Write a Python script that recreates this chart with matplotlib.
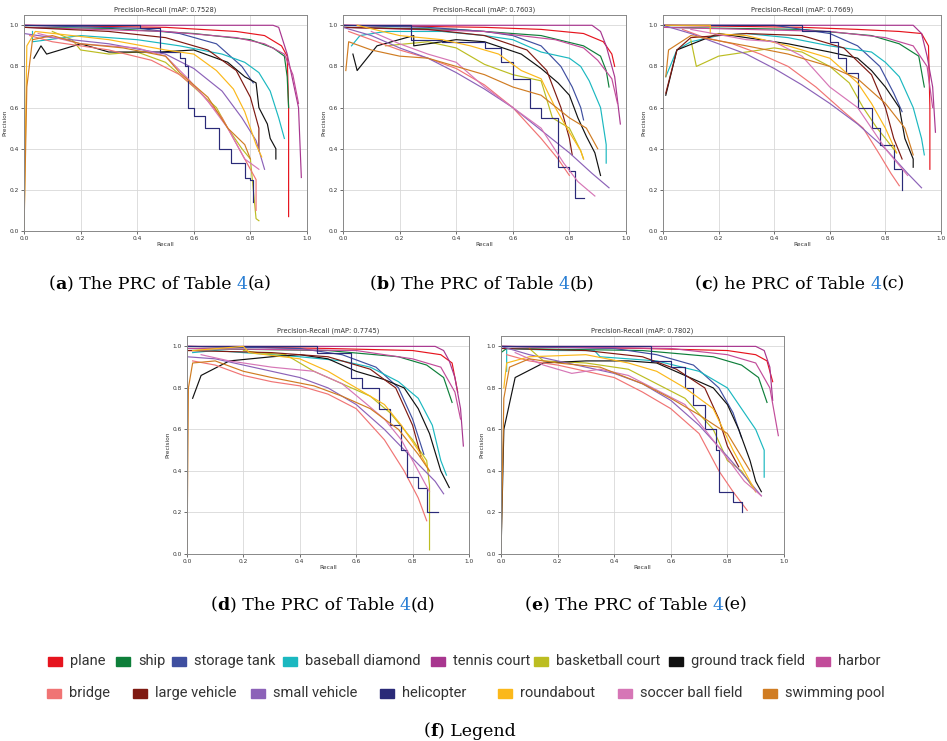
import matplotlib
matplotlib.use("Agg")
import matplotlib.pyplot as plt
from matplotlib.patches import Rectangle

classes = ["plane", "ship", "storage tank", "baseball diamond", "tennis court",
           "basketball court", "ground track field", "harbor", "bridge",
           "large vehicle", "small vehicle", "helicopter", "roundabout",
           "soccer ball field", "swimming pool"]
colors = ["#e6141e", "#0e7f3a", "#3f4fa0", "#1bb8c0", "#a8368f",
          "#bcbd22", "#111111", "#c24c9a", "#f07474", "#7f1a12",
          "#8c62b8", "#2a2a78", "#fbb81a", "#d676b6", "#d07c22"]
# helicopter has few objects, its curve is drawn as steps
stepped = {"helicopter"}

map_values = [0.7528, 0.7603, 0.7669, 0.7745, 0.7802]
panel_letters = ["a", "b", "c", "d", "e"]

# (recall, precision) points, in the order of `classes`
prc_a = [
    [(0, 1.0), (0.5, 0.99), (0.75, 0.97), (0.85, 0.95), (0.91, 0.9), (0.93, 0.85), (0.935, 0.6), (0.935, 0.07)],
    [(0, 0.99), (0.3, 0.985), (0.6, 0.96), (0.8, 0.93), (0.88, 0.89), (0.92, 0.85), (0.93, 0.75), (0.935, 0.6)],
    [(0, 1.0), (0.41, 0.985), (0.55, 0.96), (0.68, 0.91), (0.77, 0.8), (0.81, 0.72)],
    [(0.03, 0.97), (0.03, 0.92), (0.2, 0.95), (0.4, 0.93), (0.55, 0.9), (0.7, 0.86), (0.78, 0.82), (0.83, 0.77),
     (0.87, 0.68), (0.9, 0.55), (0.92, 0.45)],
    [(0, 1.0), (0.88, 1.0), (0.9, 0.99), (0.93, 0.86), (0.97, 0.6), (0.98, 0.26)],
    [(0.1, 0.97), (0.17, 0.93), (0.2, 0.88), (0.3, 0.86), (0.4, 0.87), (0.5, 0.82), (0.55, 0.76), (0.6, 0.7),
     (0.68, 0.6), (0.72, 0.5), (0.77, 0.4), (0.8, 0.35), (0.82, 0.06), (0.83, 0.05)],
    [(0.035, 0.84), (0.06, 0.9), (0.08, 0.86), (0.2, 0.91), (0.3, 0.87), (0.48, 0.87), (0.6, 0.88), (0.72, 0.82),
     (0.78, 0.75), (0.82, 0.72), (0.83, 0.6), (0.86, 0.52), (0.87, 0.45), (0.89, 0.4), (0.89, 0.35)],
    [(0, 0.99), (0.5, 0.97), (0.75, 0.94), (0.85, 0.91), (0.92, 0.86), (0.95, 0.76), (0.97, 0.62)],
    [(0.02, 0.95), (0.1, 0.92), (0.3, 0.88), (0.45, 0.83), (0.55, 0.76), (0.62, 0.68), (0.7, 0.55), (0.76, 0.4),
     (0.8, 0.3), (0.82, 0.25), (0.82, 0.1)],
    [(0, 0.99), (0.3, 0.97), (0.5, 0.94), (0.65, 0.88), (0.75, 0.78), (0.8, 0.65), (0.83, 0.5), (0.83, 0.39)],
    [(0, 0.96), (0.1, 0.94), (0.3, 0.91), (0.5, 0.86), (0.6, 0.79), (0.7, 0.68), (0.77, 0.55), (0.82, 0.44),
     (0.85, 0.3)],
    [(0, 1.0), (0.41, 1.0), (0.41, 0.985), (0.48, 0.985), (0.48, 0.87), (0.55, 0.84), (0.57, 0.8), (0.58, 0.6),
     (0.6, 0.56), (0.64, 0.5), (0.69, 0.4), (0.73, 0.33), (0.78, 0.26), (0.8, 0.25), (0.81, 0.14)],
    [(0, 0.0), (0.01, 0.9), (0.04, 0.97), (0.3, 0.93), (0.5, 0.88), (0.6, 0.86), (0.68, 0.78), (0.74, 0.69),
     (0.78, 0.58), (0.8, 0.5), (0.82, 0.42), (0.84, 0.36)],
    [(0.05, 0.96), (0.2, 0.91), (0.4, 0.89), (0.5, 0.85), (0.58, 0.74), (0.65, 0.63), (0.72, 0.5), (0.78, 0.35),
     (0.83, 0.3)],
    [(0, 0.0), (0.01, 0.7), (0.03, 0.93), (0.1, 0.95), (0.2, 0.91), (0.35, 0.89), (0.5, 0.85), (0.55, 0.77),
     (0.65, 0.65), (0.72, 0.5), (0.78, 0.42), (0.8, 0.35)],
]

prc_b = [
    [(0, 1.0), (0.5, 0.99), (0.7, 0.98), (0.85, 0.96), (0.92, 0.92), (0.95, 0.86), (0.96, 0.8)],
    [(0, 0.99), (0.4, 0.98), (0.7, 0.95), (0.85, 0.9), (0.91, 0.85), (0.93, 0.78), (0.94, 0.7)],
    [(0, 1.0), (0.3, 0.99), (0.5, 0.97), (0.6, 0.95), (0.7, 0.9), (0.77, 0.8), (0.81, 0.7), (0.84, 0.6),
     (0.85, 0.54)],
    [(0.03, 0.9), (0.06, 0.95), (0.15, 0.97), (0.35, 0.97), (0.5, 0.95), (0.6, 0.93), (0.7, 0.87), (0.8, 0.84),
     (0.84, 0.8), (0.87, 0.73), (0.91, 0.6), (0.93, 0.42), (0.93, 0.33)],
    [(0, 1.0), (0.88, 1.0), (0.91, 0.97), (0.93, 0.9), (0.96, 0.75), (0.98, 0.52)],
    [(0.15, 0.9), (0.3, 0.92), (0.4, 0.89), (0.5, 0.81), (0.6, 0.76), (0.7, 0.73), (0.74, 0.55), (0.8, 0.5),
     (0.84, 0.39), (0.85, 0.35)],
    [(0.035, 0.86), (0.05, 0.78), (0.12, 0.9), (0.25, 0.95), (0.25, 0.9), (0.4, 0.93), (0.5, 0.92), (0.63, 0.86),
     (0.7, 0.79), (0.76, 0.72), (0.8, 0.66), (0.83, 0.55), (0.86, 0.46), (0.89, 0.38), (0.91, 0.27)],
    [(0, 0.99), (0.5, 0.97), (0.75, 0.93), (0.85, 0.89), (0.9, 0.83), (0.95, 0.74), (0.97, 0.62)],
    [(0.02, 0.97), (0.1, 0.93), (0.2, 0.88), (0.3, 0.84), (0.4, 0.79), (0.5, 0.71), (0.6, 0.6), (0.7, 0.45),
     (0.76, 0.35), (0.8, 0.27)],
    [(0, 0.99), (0.3, 0.98), (0.5, 0.95), (0.65, 0.88), (0.72, 0.78), (0.77, 0.6), (0.8, 0.45), (0.81, 0.37)],
    [(0, 0.99), (0.1, 0.95), (0.2, 0.89), (0.3, 0.84), (0.4, 0.77), (0.5, 0.69), (0.6, 0.6), (0.7, 0.49),
     (0.8, 0.38), (0.88, 0.28), (0.94, 0.21)],
    [(0, 1.0), (0.24, 1.0), (0.24, 0.93), (0.35, 0.92), (0.5, 0.89), (0.56, 0.82), (0.6, 0.74), (0.66, 0.6),
     (0.7, 0.55), (0.76, 0.31), (0.8, 0.29), (0.82, 0.16), (0.85, 0.16)],
    [(0.05, 1.0), (0.2, 0.95), (0.35, 0.93), (0.45, 0.9), (0.55, 0.86), (0.63, 0.78), (0.7, 0.74), (0.75, 0.6),
     (0.8, 0.48), (0.84, 0.39), (0.85, 0.35)],
    [(0.1, 0.97), (0.2, 0.91), (0.3, 0.86), (0.4, 0.82), (0.5, 0.7), (0.6, 0.6), (0.7, 0.5), (0.78, 0.33),
     (0.83, 0.24), (0.89, 0.17)],
    [(0.01, 0.78), (0.02, 0.92), (0.1, 0.88), (0.2, 0.85), (0.3, 0.84), (0.4, 0.8), (0.5, 0.76), (0.6, 0.7),
     (0.7, 0.66), (0.8, 0.55), (0.86, 0.5), (0.9, 0.4)],
]

prc_c = [
    [(0, 1.0), (0.5, 0.99), (0.7, 0.98), (0.85, 0.97), (0.93, 0.96), (0.955, 0.9), (0.96, 0.6), (0.96, 0.3)],
    [(0, 0.99), (0.5, 0.98), (0.75, 0.95), (0.85, 0.91), (0.92, 0.85), (0.94, 0.7)],
    [(0, 1.0), (0.4, 1.0), (0.6, 0.96), (0.7, 0.9), (0.78, 0.8), (0.83, 0.67), (0.86, 0.58)],
    [(0.01, 0.75), (0.05, 0.88), (0.1, 0.92), (0.2, 0.95), (0.3, 0.96), (0.45, 0.94), (0.6, 0.9), (0.75, 0.87),
     (0.8, 0.82), (0.85, 0.75), (0.9, 0.6), (0.93, 0.45), (0.94, 0.37)],
    [(0, 1.0), (0.9, 1.0), (0.93, 0.96), (0.95, 0.85), (0.97, 0.7), (0.98, 0.48)],
    [(0.1, 0.93), (0.12, 0.8), (0.2, 0.85), (0.4, 0.89), (0.5, 0.87), (0.6, 0.8), (0.67, 0.72), (0.72, 0.6),
     (0.77, 0.5), (0.8, 0.45), (0.84, 0.38)],
    [(0.01, 0.66), (0.05, 0.88), (0.2, 0.96), (0.3, 0.94), (0.45, 0.91), (0.6, 0.87), (0.7, 0.84), (0.75, 0.78),
     (0.8, 0.7), (0.85, 0.6), (0.87, 0.45), (0.9, 0.35), (0.9, 0.31)],
    [(0, 0.99), (0.6, 0.97), (0.8, 0.94), (0.9, 0.9), (0.95, 0.8), (0.97, 0.6)],
    [(0.07, 0.98), (0.15, 0.94), (0.25, 0.91), (0.35, 0.86), (0.45, 0.8), (0.55, 0.7), (0.65, 0.58), (0.72, 0.5),
     (0.78, 0.37), (0.82, 0.28), (0.85, 0.22)],
    [(0.01, 0.67), (0.05, 0.88), (0.1, 0.94), (0.3, 0.96), (0.5, 0.95), (0.65, 0.89), (0.75, 0.76), (0.8, 0.6),
     (0.83, 0.45), (0.86, 0.35)],
    [(0, 1.0), (0.1, 0.96), (0.2, 0.91), (0.3, 0.86), (0.4, 0.79), (0.5, 0.71), (0.6, 0.62), (0.7, 0.52),
     (0.8, 0.4), (0.88, 0.28), (0.93, 0.21)],
    [(0, 1.0), (0.48, 1.0), (0.5, 0.97), (0.6, 0.92), (0.63, 0.84), (0.66, 0.77), (0.7, 0.6), (0.75, 0.5),
     (0.78, 0.42), (0.83, 0.3), (0.86, 0.2)],
    [(0.01, 1.0), (0.17, 1.0), (0.17, 0.96), (0.3, 0.95), (0.45, 0.9), (0.6, 0.84), (0.7, 0.72), (0.75, 0.62),
     (0.8, 0.5), (0.84, 0.38)],
    [(0.1, 0.98), (0.3, 0.93), (0.4, 0.92), (0.5, 0.85), (0.6, 0.7), (0.7, 0.6), (0.75, 0.5), (0.8, 0.4),
     (0.88, 0.27)],
    [(0.01, 0.75), (0.02, 0.88), (0.1, 0.95), (0.3, 0.9), (0.45, 0.86), (0.6, 0.8), (0.7, 0.74), (0.8, 0.62),
     (0.87, 0.5), (0.9, 0.37)],
]

prc_d = [
    [(0, 1.0), (0.5, 0.99), (0.8, 0.98), (0.9, 0.96), (0.94, 0.92), (0.96, 0.78)],
    [(0, 0.99), (0.5, 0.98), (0.75, 0.95), (0.85, 0.91), (0.91, 0.85), (0.94, 0.73)],
    [(0, 1.0), (0.4, 0.99), (0.55, 0.96), (0.67, 0.9), (0.75, 0.8), (0.8, 0.65), (0.84, 0.48)],
    [(0.02, 0.97), (0.1, 0.98), (0.2, 0.97), (0.4, 0.95), (0.55, 0.93), (0.65, 0.9), (0.75, 0.83), (0.82, 0.75),
     (0.87, 0.62), (0.9, 0.45), (0.92, 0.38)],
    [(0, 1.0), (0.88, 1.0), (0.91, 0.98), (0.93, 0.93), (0.95, 0.85), (0.97, 0.7), (0.98, 0.52)],
    [(0.2, 0.98), (0.25, 0.97), (0.35, 0.96), (0.45, 0.88), (0.55, 0.82), (0.65, 0.76), (0.72, 0.68),
     (0.8, 0.55), (0.85, 0.45), (0.86, 0.33), (0.86, 0.02)],
    [(0.02, 0.75), (0.05, 0.86), (0.15, 0.93), (0.3, 0.95), (0.4, 0.96), (0.5, 0.94), (0.6, 0.88), (0.7, 0.84),
     (0.77, 0.8), (0.82, 0.7), (0.86, 0.58), (0.9, 0.4), (0.93, 0.32)],
    [(0, 0.99), (0.6, 0.98), (0.8, 0.94), (0.9, 0.9), (0.95, 0.78), (0.97, 0.65)],
    [(0.02, 0.93), (0.1, 0.91), (0.2, 0.86), (0.3, 0.83), (0.4, 0.81), (0.5, 0.77), (0.6, 0.7), (0.7, 0.55),
     (0.77, 0.4), (0.82, 0.27), (0.85, 0.16)],
    [(0, 0.98), (0.3, 0.97), (0.5, 0.95), (0.65, 0.89), (0.74, 0.8), (0.8, 0.62), (0.83, 0.47)],
    [(0, 0.95), (0.1, 0.94), (0.2, 0.91), (0.3, 0.88), (0.4, 0.85), (0.5, 0.8), (0.6, 0.72), (0.7, 0.6),
     (0.8, 0.46), (0.88, 0.35), (0.91, 0.29)],
    [(0, 1.0), (0.46, 1.0), (0.46, 0.97), (0.58, 0.96), (0.58, 0.85), (0.62, 0.8), (0.68, 0.7), (0.72, 0.62),
     (0.76, 0.5), (0.78, 0.37), (0.82, 0.32), (0.85, 0.2), (0.89, 0.2)],
    [(0.02, 0.98), (0.2, 1.0), (0.22, 0.97), (0.4, 0.94), (0.5, 0.88), (0.6, 0.8), (0.7, 0.72), (0.76, 0.62),
     (0.82, 0.5), (0.86, 0.4)],
    [(0.05, 0.96), (0.15, 0.93), (0.3, 0.9), (0.45, 0.88), (0.55, 0.82), (0.63, 0.73), (0.7, 0.65), (0.76, 0.55),
     (0.82, 0.4), (0.86, 0.3)],
    [(0, 0.0), (0.005, 0.8), (0.02, 0.92), (0.1, 0.93), (0.2, 0.88), (0.3, 0.85), (0.45, 0.81), (0.55, 0.76),
     (0.65, 0.7), (0.75, 0.6), (0.82, 0.48), (0.86, 0.4)],
]

prc_e = [
    [(0, 1.0), (0.5, 0.99), (0.8, 0.98), (0.9, 0.96), (0.94, 0.93), (0.96, 0.83)],
    [(0, 0.97), (0.02, 0.99), (0.5, 0.98), (0.75, 0.95), (0.85, 0.91), (0.91, 0.85), (0.94, 0.73)],
    [(0, 1.0), (0.4, 0.99), (0.55, 0.96), (0.68, 0.91), (0.77, 0.8), (0.82, 0.68), (0.85, 0.56)],
    [(0.02, 0.88), (0.02, 0.99), (0.2, 0.98), (0.33, 0.98), (0.35, 0.95), (0.55, 0.93), (0.7, 0.88), (0.8, 0.8),
     (0.85, 0.7), (0.9, 0.6), (0.93, 0.5), (0.93, 0.37)],
    [(0, 1.0), (0.9, 1.0), (0.93, 0.98), (0.95, 0.9), (0.96, 0.74)],
    [(0.1, 0.99), (0.15, 0.93), (0.3, 0.92), (0.45, 0.89), (0.55, 0.82), (0.65, 0.75), (0.75, 0.6), (0.8, 0.45),
     (0.85, 0.4), (0.9, 0.3)],
    [(0, 0.0), (0.01, 0.6), (0.05, 0.85), (0.15, 0.92), (0.3, 0.93), (0.45, 0.93), (0.55, 0.92), (0.65, 0.86),
     (0.75, 0.8), (0.8, 0.72), (0.84, 0.6), (0.88, 0.45), (0.9, 0.35), (0.92, 0.3)],
    [(0, 1.0), (0.6, 0.99), (0.8, 0.96), (0.9, 0.92), (0.95, 0.8), (0.98, 0.57)],
    [(0.02, 0.96), (0.1, 0.93), (0.2, 0.91), (0.3, 0.88), (0.4, 0.85), (0.5, 0.78), (0.6, 0.7), (0.7, 0.58),
     (0.77, 0.4), (0.82, 0.3), (0.87, 0.21)],
    [(0, 0.99), (0.3, 0.98), (0.5, 0.95), (0.62, 0.89), (0.72, 0.8), (0.77, 0.65), (0.8, 0.52), (0.84, 0.42)],
    [(0, 1.0), (0.1, 0.96), (0.2, 0.93), (0.3, 0.9), (0.4, 0.87), (0.5, 0.82), (0.6, 0.74), (0.7, 0.62),
     (0.8, 0.47), (0.87, 0.36), (0.92, 0.28)],
    [(0, 1.0), (0.53, 1.0), (0.53, 0.93), (0.6, 0.9), (0.65, 0.8), (0.68, 0.72), (0.72, 0.6), (0.76, 0.5),
     (0.77, 0.3), (0.82, 0.25), (0.85, 0.2)],
    [(0.01, 0.8), (0.02, 0.92), (0.1, 0.95), (0.3, 0.96), (0.45, 0.92), (0.55, 0.88), (0.65, 0.8), (0.75, 0.7),
     (0.82, 0.5), (0.86, 0.4), (0.9, 0.3)],
    [(0.05, 0.97), (0.15, 0.91), (0.25, 0.87), (0.35, 0.89), (0.45, 0.86), (0.55, 0.79), (0.65, 0.72),
     (0.72, 0.6), (0.8, 0.46), (0.86, 0.35), (0.92, 0.28)],
    [(0, 0.0), (0.01, 0.75), (0.03, 0.9), (0.1, 0.94), (0.2, 0.92), (0.35, 0.9), (0.5, 0.82), (0.6, 0.75),
     (0.7, 0.67), (0.8, 0.58), (0.88, 0.4)],
]

panels = [prc_a, prc_b, prc_c, prc_d, prc_e]

W, H = 947, 741
fig = plt.figure(figsize=(W / 100, H / 100), dpi=100)

# axes boxes in pixels: left, top, width, height
boxes = [(24, 15, 283, 216), (343, 15, 283, 216), (663, 15, 278, 216),
         (187, 336, 282, 218), (501, 336, 283, 218)]

for box, curves, m in zip(boxes, panels, map_values):
    l, t, w, h = box
    ax = fig.add_axes([l / W, 1 - (t + h) / H, w / W, h / H])
    for name, col, pts in zip(classes, colors, curves):
        r = [p[0] for p in pts]
        pr = [p[1] for p in pts]
        ds = "steps-post" if name in stepped else "default"
        ax.plot(r, pr, color=col, lw=0.85, drawstyle=ds)
    ax.set_xlim(0, 1)
    ax.set_ylim(0, 1.05)
    ax.set_xticks([0, 0.2, 0.4, 0.6, 0.8, 1.0])
    ax.set_yticks([0, 0.2, 0.4, 0.6, 0.8, 1.0])
    ax.tick_params(labelsize=4.2, length=2, width=0.5, pad=1.5, colors="#333333")
    ax.grid(True, color="#d8d8d8", lw=0.6)
    for s in ax.spines.values():
        s.set_color("#888888")
        s.set_linewidth(0.7)
    ax.set_title(f"Precision-Recall (mAP: {m:.4f})", fontsize=4.8, pad=2.5, color="#333333")
    ax.set_xlabel("Recall", fontsize=4.2, labelpad=1, color="#333333")
    ax.set_ylabel("Precision", fontsize=4.2, labelpad=2, color="#333333")

renderer = fig.canvas.get_renderer()
serif = "DejaVu Serif"


def text_width(s, **kw):
    # measure with bars on both sides so spaces count
    t1 = fig.text(0, 0, "|" + s + "|", **kw)
    t2 = fig.text(0, 0, "||", **kw)
    w = t1.get_window_extent(renderer).width - t2.get_window_extent(renderer).width
    t1.remove()
    t2.remove()
    return w


def caption(cx, cy, pieces, size=12.5):
    widths = [text_width(s, fontsize=size, family=serif, fontweight=wt) for s, wt, c in pieces]
    x = cx - sum(widths) / 2
    for (s, wt, c), w in zip(pieces, widths):
        fig.text(x / W, 1 - cy / H, s, fontsize=size, family=serif, fontweight=wt,
                 color=c, ha="left", va="center")
        x += w


cap_pos = [(160, 284), (482, 284), (800, 284), (323, 605), (636, 605)]
cap_body = [" The PRC of Table ", " The PRC of Table ", " he PRC of Table ",
            " The PRC of Table ", " The PRC of Table "]
for (cx, cy), letter, body in zip(cap_pos, panel_letters, cap_body):
    caption(cx, cy, [("(", "normal", "black"), (letter, "bold", "black"),
                     (")" + body, "normal", "black"), ("4", "normal", "#2a7fd4"),
                     ("(" + letter + ")", "normal", "black")])

# legend laid out as in the figure: two rows of hand-placed items
legend_x = [55, 123, 179, 290, 438, 541, 676, 823,
            54, 140, 258, 387, 505, 625, 770]
legend_y = [661] * 8 + [693] * 8
for i, (name, col) in enumerate(zip(classes, colors)):
    x, y = legend_x[i], legend_y[i]
    fig.patches.append(Rectangle(((x - 7) / W, 1 - (y + 4.5) / H), 14 / W, 9 / H,
                                 transform=fig.transFigure, color=col))
    fig.text((x + 15) / W, 1 - y / H, name, fontsize=10.5,
             family=["Roboto", "DejaVu Sans"],
             color="#333333", ha="left", va="center")

caption(470, 731, [("(", "normal", "black"), ("f", "bold", "black"),
                   (") Legend", "normal", "black")])

fig.savefig("out.png", dpi=100)
